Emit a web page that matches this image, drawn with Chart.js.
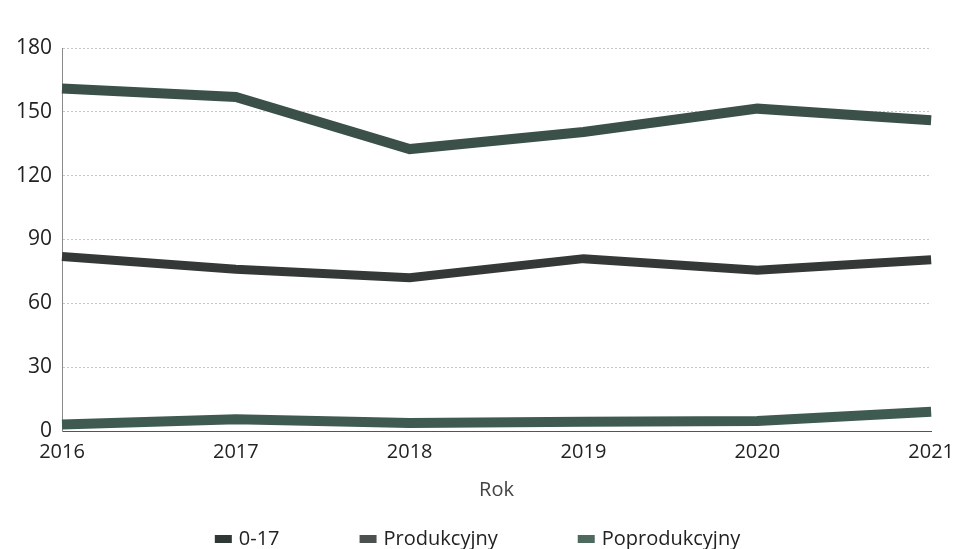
<!DOCTYPE html>
<html>
<head>
<meta charset="utf-8">
<script src="https://cdn.jsdelivr.net/npm/chart.js@4/dist/chart.umd.min.js"></script>
<style>
html,body{margin:0;padding:0;background:#fff;}
#wrap{width:955px;height:549px;position:relative;}
</style>
</head>
<body>
<div id="wrap"><canvas id="c" width="955" height="549"></canvas></div>
<script>
const years = ['2016','2017','2018','2019','2020','2021'];
const yTicks = [0,30,60,90,120,150,180];
const seriesNames = ['0-17','Produkcyjny','Poprodukcyjny'];
const vals017 = [82, 76, 72, 81, 75.5, 80.5];
const valsProd = [161, 157, 132.5, 140.5, 151.5, 146];
const valsPoprod = [3, 5.5, 3.8, 4.3, 4.7, 9];

const lineColors = ['#343937','#3b5048','#3f5a51'];
const legendColors = ['#2f3833','#4c514f','#50695f'];
const widths = [9,10,10];

// Legend drawn with Chart.js plugin hook (bottom, centered, wide spacing)
const legendPlugin = {
  id: 'wideLegend',
  afterDraw(chart, args, opts) {
    const ctx = chart.ctx;
    const font = '20px "Open Sans"';
    ctx.save();
    ctx.font = font;
    ctx.textBaseline = 'middle';
    ctx.textAlign = 'left';
    const items = chart.data.datasets.map((ds, i) => ({
      text: ds.label, color: legendColors[i], w: ctx.measureText(ds.label).width
    }));
    const boxW = 17, boxH = 8, boxGap = 7, itemGap = opts.itemGap;
    const total = items.reduce((s, it) => s + boxW + boxGap + it.w, 0) + itemGap * (items.length - 1);
    let x = (chart.width - total) / 2;
    const y = chart.height - opts.bottomOffset;
    items.forEach(it => {
      ctx.fillStyle = it.color;
      ctx.fillRect(x, y - boxH / 2, boxW, boxH);
      ctx.fillStyle = '#222';
      ctx.fillText(it.text, x + boxW + boxGap, y);
      x += boxW + boxGap + it.w + itemGap;
    });
    ctx.restore();
  }
};

const chart = new Chart(document.getElementById('c'), {
  type: 'line',
  data: {
    labels: years,
    datasets: [vals017, valsProd, valsPoprod].map((d,i)=>({
      label: seriesNames[i],
      data: d,
      borderColor: lineColors[i],
      backgroundColor: legendColors[i],
      borderWidth: widths[i],
      pointRadius: 0,
      tension: 0,
      fill: false,
      borderCapStyle: 'butt',
      borderJoinStyle: 'miter'
    }))
  },
  plugins: [legendPlugin],
  options: {
    responsive: false,
    animation: false,
    layout: {padding: {top: 48, right: 0, left: 8, bottom: 47}},
    plugins: {
      legend: {display: false},
      wideLegend: {itemGap: 80, bottomOffset: 10},
      tooltip: {enabled: false}
    },
    scales: {
      x: {
        grid: {display: false},
        border: {display: true, color: '#555', width: 1},
        ticks: {color: '#222', font: {family: 'Open Sans', size: 20}, padding: 1, maxRotation: 0},
        title: {display: true, text: 'Rok', color: '#444', font: {family: 'Open Sans', size: 20}, padding: {top: 13, bottom: 0}}
      },
      y: {
        min: 0, max: 180,
        afterBuildTicks: (ax) => { ax.ticks = yTicks.map(v => ({value: v})); },
        afterFit: (ax) => { ax.width = 54; },
        grid: {color: '#c8c8c8', lineWidth: 1, drawTicks: false},
        border: {display: true, color: '#8a8a8a', width: 1, dash: [2,2]},
        ticks: {color: '#222', font: {family: 'Open Sans', size: 21}, padding: 10}
      }
    }
  }
});
</script>
</body>
</html>
